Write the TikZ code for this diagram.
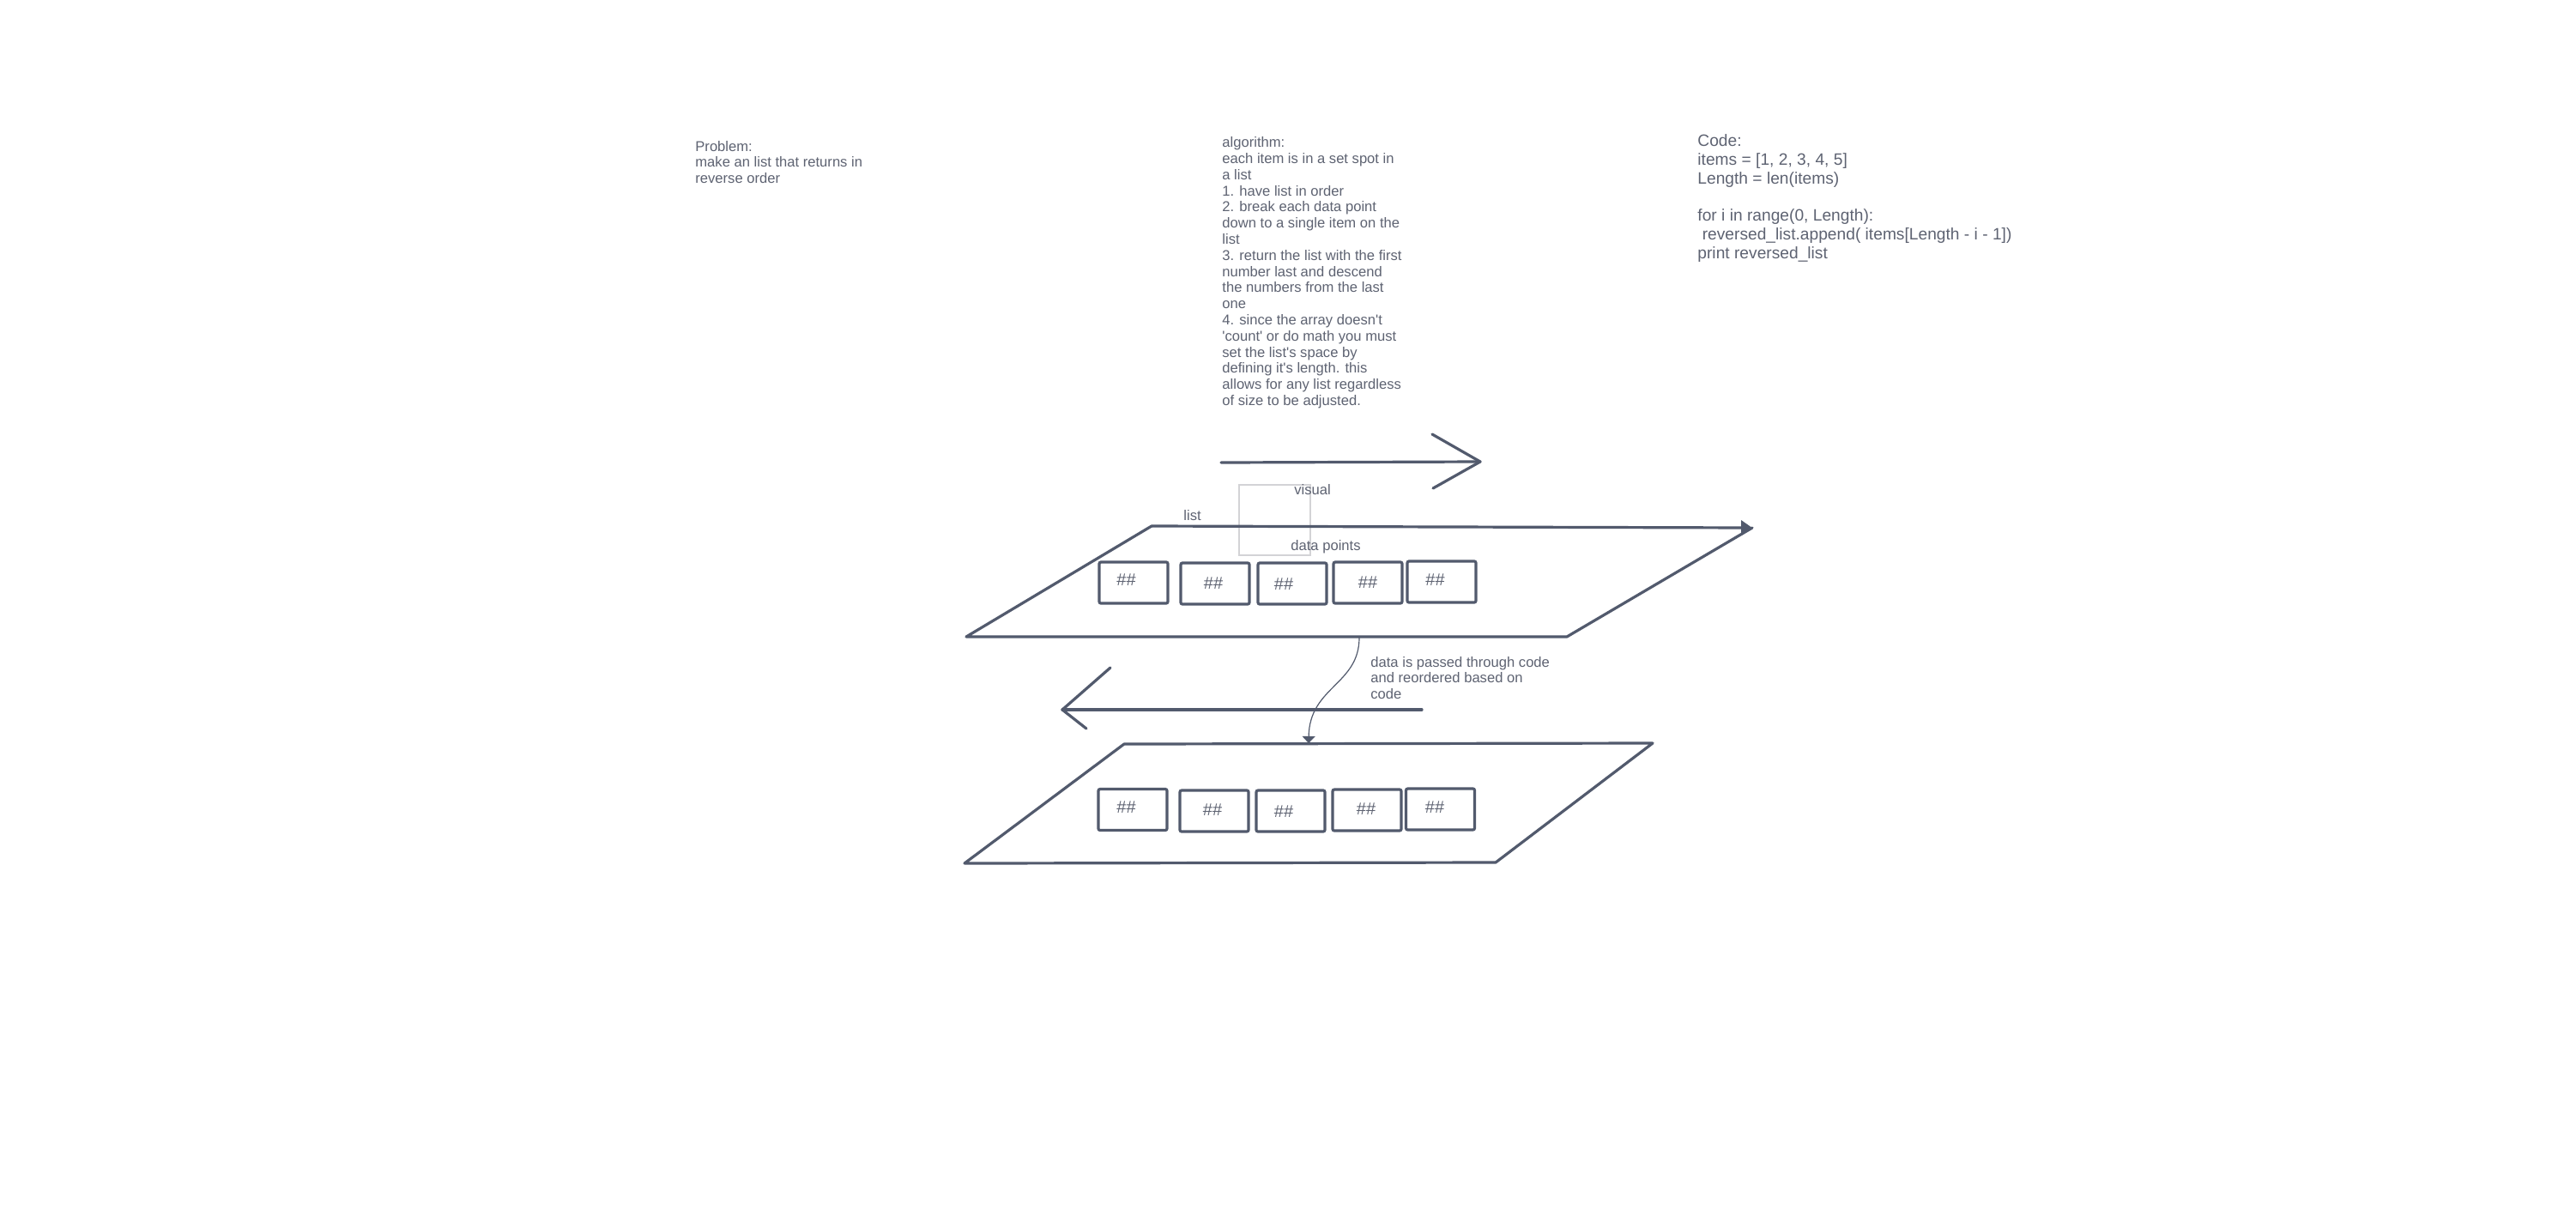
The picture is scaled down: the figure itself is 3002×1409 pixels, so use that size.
\documentclass[tikz,border=0pt]{standalone}
\usepackage{fontspec}
\setmainfont{Liberation Sans}
\usetikzlibrary{arrows.meta}
\definecolor{ink}{HTML}{525A6D}
\definecolor{txt}{HTML}{5E6372}
\definecolor{faint}{HTML}{D3D3D6}
\tikzset{
  edge/.style={draw=ink, line width=1.6pt, line join=round, line cap=round},
  thinlink/.style={draw=ink, line width=0.6pt},
  cell/.style={draw=ink, line width=1.6pt, rounded corners=1pt, minimum width=40pt, minimum height=24pt, inner sep=0pt},
  hash/.style={text=txt, font=\fontsize{10}{10}\selectfont, inner sep=0pt},
  note/.style={text=txt, inner sep=0pt, anchor=base west, font=\fontsize{8.3}{9.4}\selectfont},
  codenote/.style={text=txt, inner sep=0pt, anchor=base west, font=\fontsize{9.6}{10.9}\selectfont},
}
\begin{document}
\begin{tikzpicture}[x=0.5pt, y=-0.5pt]
\fill[white] (0,0) rectangle (3002,1409);
\useasboundingbox (0,0) rectangle (3002,1409);

% ---- text blocks
\node[note] (problem) at (810,176) {\parbox[t]{200pt}{\raggedright Problem:\\make an list that returns in\\reverse order}};
\node[note] (algo) at (1424,171.7) {\parbox[t]{200pt}{\raggedright algorithm:\\each item is in a set spot in\\a list\\1. have list in order\\2. break each data point\\down to a single item on the\\list\\3. return the list with the first\\number last and descend\\the numbers from the last\\one\\4. since the array doesn\textquotesingle t\\\textquotesingle count\textquotesingle{} or do math you must\\set the list\textquotesingle s space by\\defining it\textquotesingle s length. this\\allows for any list regardless\\of size to be adjusted.}};
\node[codenote] (code) at (1978,170.7) {\parbox[t]{300pt}{\raggedright Code:\\items = [1, 2, 3, 4, 5]\\Length = len(items)\\[10.9pt]for i in range(0, Length):\\\hspace*{0.28em}reversed\_list.append( items[Length - i - 1])\\print reversed\_list}};

% ---- right arrow
\coordinate (ra1) at (1423,539);
\coordinate (ra2) at (1725,538);
\coordinate (rau) at (1669,506);
\coordinate (ral) at (1670,569);
\draw[edge] (ra1) -- (ra2);
\draw[edge] (rau) -- (ra2) -- (ral);

% ---- visual box
\coordinate (v1) at (1444,565);
\coordinate (v2) at (1527,647);
\draw[faint, line width=0.6pt] (v1) rectangle (v2);
\node[note] (visual) at (1508,576) {visual};
\node[note] (datapoints) at (1504,641) {data points};
\node[note] (listlbl) at (1379,606) {list};

% ---- top list plane
\coordinate (p1tl) at (1342,613);
\coordinate (p1tr) at (2042,615);
\coordinate (p1br) at (1826,742);
\coordinate (p1bl) at (1126,742);
\draw[edge] (p1tr) -- (p1br) -- (p1bl) -- (p1tl);
\draw[edge, -{Triangle[length=6.5pt,width=8.5pt]}] (p1tl) -- (p1tr);

\node[cell] (a1) at (1321,679) {};
\node[cell] (a2) at (1416,680) {};
\node[cell] (a3) at (1506,680) {};
\node[cell] (a4) at (1594,679) {};
\node[cell] (a5) at (1680,678) {};
\node[hash] (ha1) at (1312.5,676) {\#\#};
\node[hash] (ha2) at (1414,680) {\#\#};
\node[hash] (ha3) at (1496,681) {\#\#};
\node[hash] (ha4) at (1594,679) {\#\#};
\node[hash] (ha5) at (1672.5,676) {\#\#};

% ---- left arrow
\coordinate (la1) at (1657,827);
\coordinate (la2) at (1238,827);
\coordinate (lau) at (1294,778);
\coordinate (lal) at (1266,849);
\draw[edge] (la1) -- (la2);
\draw[edge] (lau) -- (la2) -- (lal);

\node[note] (passed) at (1597,777.3) {\parbox[t]{200pt}{\fontsize{8.3}{9.25}\selectfont\raggedright data is passed through code\\and reordered based on\\code}};

% ---- bottom list plane
\coordinate (p2tl) at (1310,867);
\coordinate (p2tr) at (1926,866);
\coordinate (p2br) at (1743,1005);
\coordinate (p2bl) at (1124,1006);
\draw[edge] (p2tl) -- (p2tr) -- (p2br) -- (p2bl) -- cycle;

\node[cell] (b1) at (1320,943.5) {};
\node[cell] (b2) at (1415,945) {};
\node[cell] (b3) at (1504,945) {};
\node[cell] (b4) at (1593,944) {};
\node[cell] (b5) at (1678.5,943) {};
\node[hash] (hb1) at (1312.5,941) {\#\#};
\node[hash] (hb2) at (1413,944) {\#\#};
\node[hash] (hb3) at (1496,946) {\#\#};
\node[hash] (hb4) at (1592,943) {\#\#};
\node[hash] (hb5) at (1672,941) {\#\#};

% ---- curved connector
\coordinate (c1) at (1584,743);
\coordinate (c2) at (1525,866);
\draw[thinlink, -{Triangle[length=4pt,width=7.5pt]}] (c1) .. controls (1584,798) and (1526,800) .. (c2);
\end{tikzpicture}
\end{document}
